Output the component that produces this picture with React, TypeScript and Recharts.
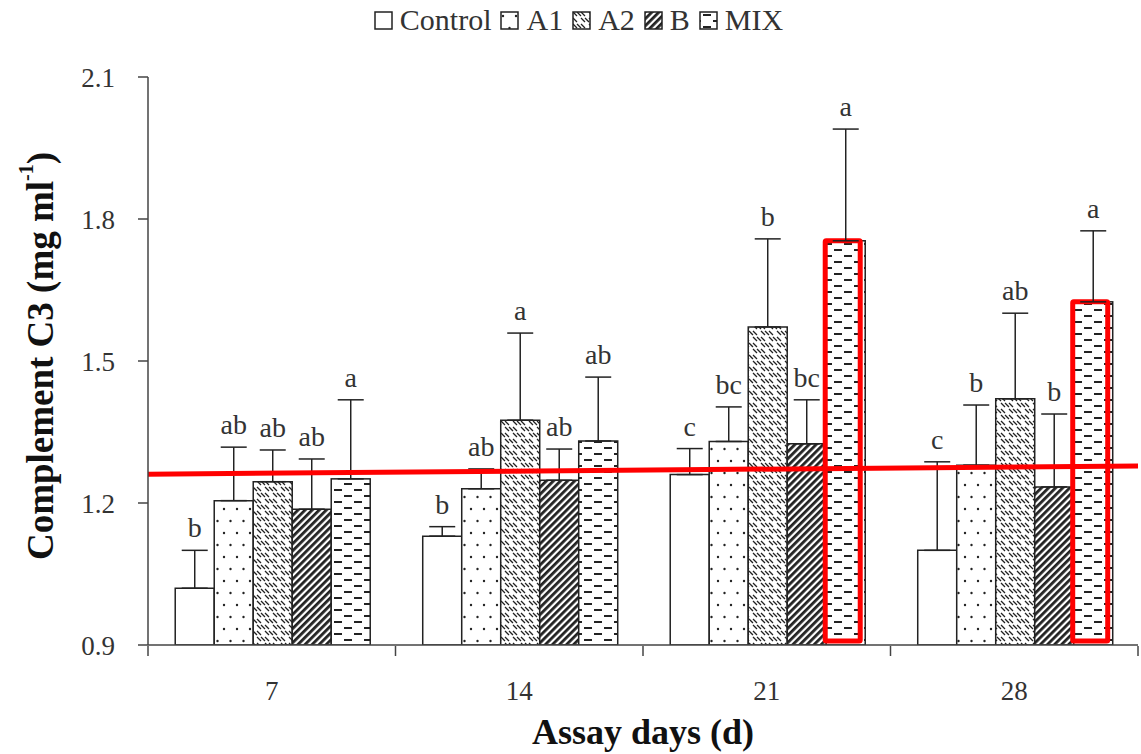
import React from "react";
import {
  BarChart,
  Bar,
  XAxis,
  YAxis,
  ErrorBar,
  LabelList,
  ReferenceLine,
} from "recharts";

// assay days
const days = ["7", "14", "21", "28"];

// means (mg ml-1)
const control = [1.02, 1.13, 1.26, 1.1];
const a1 = [1.205, 1.23, 1.33, 1.28];
const a2 = [1.245, 1.375, 1.572, 1.42];
const bGroup = [1.187, 1.248, 1.325, 1.234];
const mix = [1.251, 1.331, 1.754, 1.625];

// upper error (SD)
const controlErr = [0.08, 0.02, 0.055, 0.187];
const a1Err = [0.113, 0.042, 0.073, 0.127];
const a2Err = [0.067, 0.184, 0.186, 0.181];
const bErr = [0.106, 0.066, 0.093, 0.154];
const mixErr = [0.167, 0.135, 0.236, 0.15];

// significance letters
const controlSig = ["b", "b", "c", "c"];
const a1Sig = ["ab", "ab", "bc", "b"];
const a2Sig = ["ab", "a", "b", "ab"];
const bSig = ["ab", "ab", "bc", "b"];
const mixSig = ["a", "ab", "a", "a"];

// red annotations
const mixHighlight = [false, false, true, true];
const trendLine = [
  { x: 0, y: 1.261 },
  { x: 4, y: 1.278 },
];

const yTicks = [0.9, 1.2, 1.5, 1.8, 2.1];
const groupEdges = [0, 1, 2, 3, 4];
const Y_MIN = 0.9;
const FONT = '"Liberation Serif", "Times New Roman", serif';
const INK = "#222";

const series = [
  { key: "control", name: "Control", values: control, err: controlErr, sig: controlSig, fill: "#fff" },
  { key: "a1", name: "A1", values: a1, err: a1Err, sig: a1Sig, fill: "url(#pA1)" },
  { key: "a2", name: "A2", values: a2, err: a2Err, sig: a2Sig, fill: "url(#pA2)" },
  { key: "b", name: "B", values: bGroup, err: bErr, sig: bSig, fill: "url(#pB)" },
  { key: "mix", name: "MIX", values: mix, err: mixErr, sig: mixSig, fill: "url(#pMIX)" },
];

const data = days.map((d, i) => {
  const row: any = { day: d, pos: i + 0.5 };
  series.forEach((s) => {
    row[s.key] = s.values[i];
    row[s.key + "Err"] = [0, s.err[i]];
  });
  return row;
});

const Patterns = () => (
  <svg width="0" height="0" style={{ position: "absolute" }}>
    <defs>
      <pattern id="pA1" patternUnits="userSpaceOnUse" width="13" height="24">
        <rect width="13" height="24" fill="#fff" />
        <circle cx="3" cy="5" r="1.2" fill={INK} />
        <circle cx="9.5" cy="17" r="1.2" fill={INK} />
      </pattern>
      <pattern id="pA2" patternUnits="userSpaceOnUse" width="16" height="12">
        <rect width="16" height="12" fill="#fff" />
        <g stroke={INK} strokeWidth="1.3">
          <path d="M1,1 L5,5 M5,1 L9,5 M9,1 L13,5" />
          <path d="M9,7 L13,11 M13,7 L17,11 M-3,7 L1,11 M1,7 L5,11" />
        </g>
      </pattern>
      <pattern id="pB" patternUnits="userSpaceOnUse" width="5" height="5" patternTransform="rotate(45)">
        <rect width="5" height="5" fill="#fff" />
        <rect x="0" y="0" width="2.8" height="5" fill={INK} />
      </pattern>
      <pattern id="pMIX" patternUnits="userSpaceOnUse" width="20" height="12">
        <rect width="20" height="12" fill="#fff" />
        <g stroke={INK} strokeWidth="2">
          <path d="M4,4 H12" />
          <path d="M14,10 H20 M0,10 H2" />
        </g>
      </pattern>
    </defs>
  </svg>
);

const makeLetters = (s: any) => (props: any) => {
  const { x, y, width, height, index } = props;
  const v = s.values[index];
  const perUnit = height / (v - Y_MIN);
  const capY = y - s.err[index] * perUnit;
  return (
    <text
      x={x + width / 2}
      y={capY - 13}
      textAnchor="middle"
      fontFamily={FONT}
      fontSize={28}
      fill="#333"
    >
      {s.sig[index]}
    </text>
  );
};

const MixShape = (props: any) => {
  const { x, y, width, height, index, fill } = props;
  return (
    <g>
      <rect x={x} y={y} width={width} height={height} fill={fill} stroke={INK} strokeWidth={1.5} />
      {mixHighlight[index] && (
        <rect
          x={x - 1}
          y={y}
          width={width - 4}
          height={height - 4}
          fill="none"
          stroke="#f00"
          strokeWidth={5}
          rx={1}
        />
      )}
    </g>
  );
};

const EmptyTick = () => <g />;

const YTitle = (props: any) => {
  const vb = props.viewBox;
  const cx = vb.x + 40;
  const cy = vb.y + vb.height / 2 - 5;
  return (
    <text
      x={cx}
      y={cy}
      transform={`rotate(-90 ${cx} ${cy})`}
      textAnchor="middle"
      dominantBaseline="central"
      fontFamily={FONT}
      fontSize={37}
      fontWeight="bold"
      fill="#111"
    >
      Complement C3 (mg ml
      <tspan fontSize={20} dy={-14}>-1</tspan>
      <tspan dy={14}>)</tspan>
    </text>
  );
};

const XTitle = (props: any) => {
  const vb = props.viewBox;
  return (
    <text
      x={vb.x + vb.width / 2}
      y={vb.y + 99}
      textAnchor="middle"
      fontFamily={FONT}
      fontSize={36}
      fontWeight="bold"
      fill="#111"
    >
      Assay days (d)
    </text>
  );
};

const LegendRow = () => (
  <div
    style={{
      position: "absolute",
      top: 3,
      left: 0,
      width: 1141,
      display: "flex",
      justifyContent: "center",
      alignItems: "center",
      fontFamily: FONT,
      fontSize: 30,
      color: "#333",
      gap: 9,
      paddingLeft: 16,
      boxSizing: "border-box",
    }}
  >
    {series.map((s) => (
      <span key={s.key} style={{ display: "flex", alignItems: "center", gap: 7 }}>
        <svg width="19" height="19">
          <rect x="1" y="1" width="17" height="17" fill={s.fill} stroke={INK} strokeWidth="1.5" />
        </svg>
        {s.name}
      </span>
    ))}
  </div>
);

export default function App() {
  return (
    <div style={{ position: "absolute", left: 0, top: 0, width: 1141, height: 754, background: "#fff" }}>
      <Patterns />
      <LegendRow />
      <BarChart
        width={1141}
        height={754}
        data={data}
        margin={{ top: 77, right: 3, bottom: 0, left: 0 }}
        barCategoryGap="11%"
        barGap={0}
      >
        <XAxis
          dataKey="day"
          height={1}
          tickLine={false}
          tickSize={0}
          tickMargin={36}
          axisLine={{ stroke: "#444", strokeWidth: 1.5 }}
          tick={{ fill: "#333", fontSize: 27, fontFamily: FONT }}
          label={XTitle}
        />
        <XAxis
          xAxisId="num"
          dataKey="pos"
          type="number"
          domain={[0, 4]}
          ticks={groupEdges}
          interval={0}
          allowDataOverflow
          tick={EmptyTick}
          axisLine={false}
          tickSize={10}
          tickLine={{ stroke: "#444", strokeWidth: 1.5 }}
          height={108}
        />
        <YAxis
          width={148}
          domain={[0.9, 2.1]}
          ticks={yTicks}
          allowDataOverflow
          tickFormatter={(v: number) => v.toFixed(1)}
          tickSize={10}
          tickMargin={23}
          axisLine={{ stroke: "#444", strokeWidth: 1.5 }}
          tickLine={{ stroke: "#444", strokeWidth: 1.5 }}
          tick={{ fill: "#333", fontSize: 27, fontFamily: FONT }}
          label={YTitle}
        />
        {series.map((s) => (
          <Bar
            key={s.key}
            dataKey={s.key}
            name={s.name}
            fill={s.fill}
            stroke={INK}
            strokeWidth={1.5}
            isAnimationActive={false}
            shape={s.key === "mix" ? MixShape : undefined}
          >
            <ErrorBar dataKey={s.key + "Err"} direction="y" width={13} stroke={INK} strokeWidth={1.5} />
            <LabelList dataKey={s.key} content={makeLetters(s)} />
          </Bar>
        ))}
        <ReferenceLine
          xAxisId="num"
          segment={trendLine}
          stroke="#f00"
          strokeWidth={5}
          ifOverflow="visible"
        />
      </BarChart>
    </div>
  );
}
